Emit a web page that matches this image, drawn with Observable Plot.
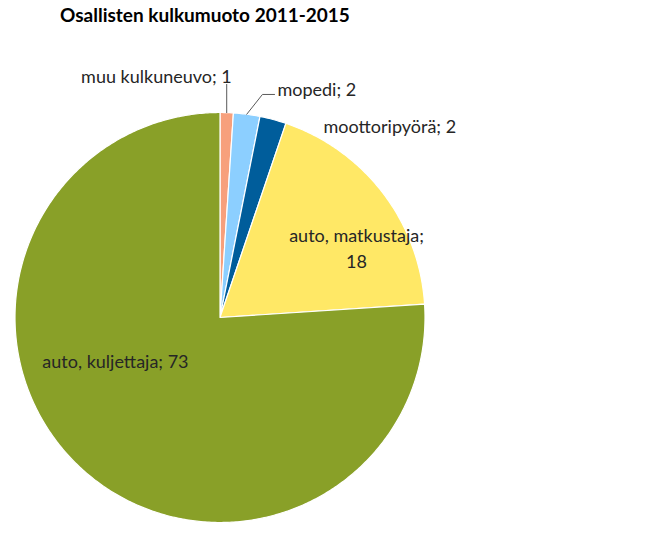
<!DOCTYPE html>
<html>
<head>
<meta charset="utf-8">
<script src="https://cdn.jsdelivr.net/npm/d3@7"></script>
<script src="https://cdn.jsdelivr.net/npm/@observablehq/plot@0.6"></script>
<style>
  body { margin: 0; background: #fff; }
  #wrap { position: relative; width: 661px; height: 542px; }
  #title { position: absolute; left: 60px; top: 3px; font: bold 19px Lato, "Open Sans", sans-serif; color: #000; }
  #chart { position: absolute; left: 0; top: 0; }
</style>
</head>
<body>
<div id="wrap">
  <div id="chart"></div>
  <div id="title">Osallisten kulkumuoto 2011-2015</div>
</div>
<script>
// Data
const categories = ["muu kulkuneuvo", "mopedi", "moottoripyörä", "auto, matkustaja", "auto, kuljettaja"];
const values = [1, 2, 2, 18, 73];
const colors = ["#F7A07C", "#8CCFFF", "#005D9B", "#FFE866", "#89A028"];

// Pie geometry via d3.pie (clockwise from 12 o'clock, in given order)
const pie = d3.pie().sort(null).value(d => d.value);
const arcs = pie(categories.map((name, i) => ({name, value: values[i]})));

const pts = [];
for (const a of arcs) {
  const n = Math.max(4, Math.ceil((a.endAngle - a.startAngle) / 0.01));
  pts.push({name: a.data.name, x: 0, y: 0});
  for (let k = 0; k <= n; k++) {
    const t = a.startAngle + (a.endAngle - a.startAngle) * k / n;
    pts.push({name: a.data.name, x: Math.sin(t), y: Math.cos(t)});
  }
  pts.push({name: a.data.name, x: 0, y: 0});
}

const mid = a => (a.startAngle + a.endAngle) / 2;
const A = Object.fromEntries(arcs.map(a => [a.data.name, a]));

// Label layout
const labelsMiddle = [
  {text: `${categories[0]}; ${values[0]}`, x: -0.31, y: 1.186},
  {text: `${categories[3]};\n${values[3]}`, x: 0.666, y: 0.345},
  {text: `${categories[4]}; ${values[4]}`, x: -0.51, y: -0.205}
];
const labelsStart = [
  {text: `${categories[1]}; ${values[1]}`, x: 0.28, y: 1.12},
  {text: `${categories[2]}; ${values[2]}`, x: 0.505, y: 0.94}
];

// Leader lines
const m0 = mid(A[categories[0]]), m1 = mid(A[categories[1]]);
const leaders = [
  {g: 0, x: Math.sin(m0), y: Math.cos(m0)},
  {g: 0, x: Math.sin(m0), y: 1.137},
  {g: 1, x: Math.sin(m1), y: Math.cos(m1)},
  {g: 1, x: 0.207, y: 1.088},
  {g: 1, x: 0.266, y: 1.088}
];

const cx = 219.5, cy = 317, r = 205;
const textOpts = {x: "x", y: "y", text: "text", fontSize: 18, fill: "#262626", lineHeight: 1.45};
const chart = Plot.plot({
  width: 661,
  height: 542,
  margin: 0,
  x: {domain: [-1, 1], range: [cx - r, cx + r], axis: null},
  y: {domain: [-1, 1], range: [cy + r, cy - r], axis: null},
  color: {domain: categories, range: colors},
  style: {fontFamily: "Lato, 'Open Sans', sans-serif", background: "#fff"},
  marks: [
    Plot.line(pts, {x: "x", y: "y", z: "name", fill: "name", stroke: "#fff", strokeWidth: 1.2, curve: "linear"}),
    Plot.line(leaders, {x: "x", y: "y", z: "g", stroke: "#595959", strokeWidth: 1}),
    Plot.text(labelsMiddle, {...textOpts, textAnchor: "middle"}),
    Plot.text(labelsStart, {...textOpts, textAnchor: "start"})
  ]
});
document.getElementById("chart").appendChild(chart);
</script>
</body>
</html>
